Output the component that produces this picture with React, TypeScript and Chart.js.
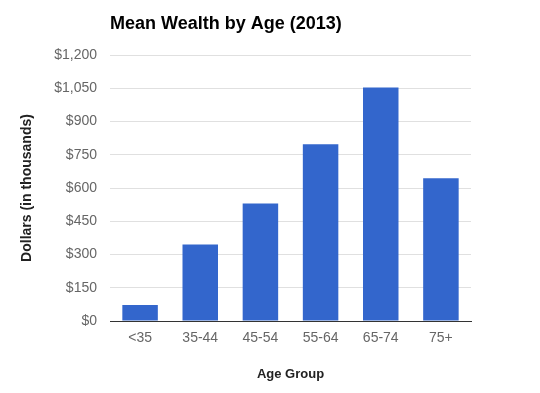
import React, { useEffect, useRef } from "react";
import { Chart, registerables } from "chart.js";

Chart.register(...registerables);

const categories = ["<35", "35-44", "45-54", "55-64", "65-74", "75+"];
const meanWealth = [72, 345, 530, 797, 1053, 644];
const yTickValues = [0, 150, 300, 450, 600, 750, 900, 1050, 1200];
const chartTitle = "Mean Wealth by Age (2013)";
const yTitle = "Dollars (in thousands)";
const xTitle = "Age Group";

const FONT = "'Liberation Sans', Arial, sans-serif";

export default function App() {
  const ref = useRef<HTMLCanvasElement | null>(null);
  useEffect(() => {
    if (!ref.current) return;
    const textPlugin = {
      id: "texts",
      afterDraw(chart: any) {
        const { ctx, chartArea } = chart;
        ctx.save();
        ctx.fillStyle = "#000";
        ctx.font = `bold 18px ${FONT}`;
        ctx.textAlign = "left";
        ctx.textBaseline = "middle";
        ctx.fillText(chartTitle, chartArea.left, 24);
        ctx.font = `bold 13px ${FONT}`;
        ctx.fillStyle = "#222";
        ctx.textAlign = "center";
        ctx.fillText(xTitle, (chartArea.left + chartArea.right) / 2, 374);
        ctx.font = `bold 14px ${FONT}`;
        ctx.translate(27, (chartArea.top + chartArea.bottom) / 2);
        ctx.rotate(-Math.PI / 2);
        ctx.fillText(yTitle, 0, 0);
        ctx.restore();
      },
    };
    const chart = new Chart(ref.current, {
      type: "bar",
      data: {
        labels: categories,
        datasets: [
          {
            data: meanWealth,
            backgroundColor: "#3366CC",
            barPercentage: 0.59,
            categoryPercentage: 1,
          },
        ],
      },
      options: {
        animation: false,
        responsive: false,
        layout: { padding: { top: 55, right: 69, left: 0, bottom: 0 } },
        plugins: { legend: { display: false }, title: { display: false }, tooltip: { enabled: false } },
        scales: {
          x: {
            grid: { display: false, drawTicks: false },
            border: { color: "#333", width: 1 },
            ticks: { color: "#666", font: { family: FONT, size: 14 }, padding: 9 },
            afterFit(scale: any) {
              scale.height = 72;
            },
          },
          y: {
            min: 0,
            max: 1200,
            afterBuildTicks(scale: any) {
              scale.ticks = yTickValues.map((v) => ({ value: v }));
            },
            grid: { color: "#e0e0e0", drawTicks: false },
            border: { display: false },
            ticks: {
              color: "#666",
              font: { family: FONT, size: 14 },
              padding: 13,
              callback: (v: any) => "$" + Number(v).toLocaleString("en-US"),
            },
            afterFit(scale: any) {
              scale.width = 110;
            },
          },
        },
      },
      plugins: [textPlugin],
    });
    return () => chart.destroy();
  }, []);
  return (
    <div style={{ position: "fixed", left: 0, top: 0, width: 540, height: 393, background: "#fff" }}>
      <canvas ref={ref} width={540} height={393} style={{ width: 540, height: 393 }} />
    </div>
  );
}
